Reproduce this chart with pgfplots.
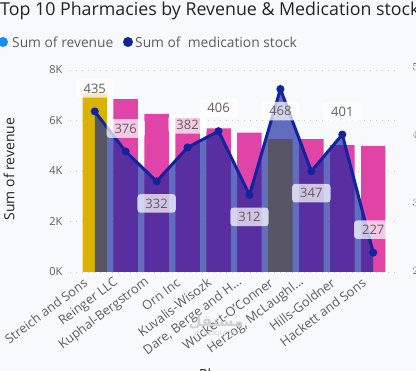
\documentclass[border=0pt]{standalone}
\usepackage{pgfplots}
\pgfplotsset{compat=1.18}
\usepackage{fontspec}
\setmainfont{Open Sans}
\newfontfamily\arabicfont[Script=Arabic]{DejaVu Sans}
\TeXXeTstate=1
\definecolor{bgc}{RGB}{248,249,251}
\definecolor{pinkc}{HTML}{E044A7}
\definecolor{yellowc}{HTML}{D9B300}
\definecolor{navyc}{HTML}{12239E}
\definecolor{legblue}{HTML}{118DFF}
\definecolor{textgray}{HTML}{605E5C}
\definecolor{titlec}{HTML}{252423}
\definecolor{gridc}{RGB}{200,200,200}
\newcommand{\dd}{.{}.{}.}
\begin{document}
\begin{tikzpicture}
\useasboundingbox (0pt,0pt) rectangle (416pt,371pt);
\fill[bgc] (0pt,0pt) rectangle (416pt,371pt);
% title
\node[overlay, anchor=base west, inner sep=0pt, font=\fontsize{17.8}{21}\selectfont, text=titlec] at (0pt,355pt) {Top 10 Pharmacies by Revenue \& Medication stock};
% legend
\fill[overlay, legblue] (3pt,329pt) circle (5pt);
\node[anchor=west, inner sep=0pt, font=\fontsize{13.8}{16}\selectfont, text=textgray] at (12pt,329pt) {Sum of revenue};
\fill[navyc] (128pt,329pt) circle (5pt);
\node[anchor=west, inner sep=0pt, font=\fontsize{13.8}{16}\selectfont, text=textgray] at (135pt,329pt) {Sum of\ \ medication stock};
% y label
\node[rotate=90, inner sep=0pt, font=\fontsize{14}{16}\selectfont, text=titlec] at (9pt,202pt) {Sum of revenue};
% x label (cut off)
\node[overlay, anchor=base west, inner sep=0pt, font=\fontsize{14}{16}\selectfont, text=titlec] at (199pt,-9pt) {Pharmacy};

\begin{axis}[
  at={(70pt,99pt)}, anchor=south west, scale only axis,
  width=328pt, height=205pt,
  xmin=-0.8, xmax=9.8, ymin=0, ymax=8120,
  axis line style={draw=none}, major tick length=0pt,
  ytick={0,2000,4000,6000,8000}, yticklabels={0K,2K,4K,6K,8K},
  yticklabel style={font=\fontsize{11}{13}\selectfont, text=textgray, anchor=east, xshift=-4pt},
  ymajorgrids, grid style={gridc, line width=0.9pt, dash pattern=on 1.2pt off 4.8pt},
  xtick={0,1,2,3,4,5,6,7,8,9},
  xticklabels={Streich and Sons, Reinger LLC, Kuphal-Bergstrom, Orn Inc, Kuvalis-Wisozk, {Dare, Berge and H\dd}, Wuckert-O'Conner, {Herzog, McLaughl\dd}, Hills-Goldner, Hackett and Sons},
  xticklabel style={overlay, font=\fontsize{12.8}{14}\selectfont, text=textgray, inner sep=0pt, xshift=-9pt, yshift=-9pt, rotate=37, anchor=east},
]
\addplot[ybar, bar width=0.79, bar shift=0pt, fill=pinkc, draw=none] coordinates {(1,6850) (2,6260) (3,6100) (4,5690) (5,5520) (7,5260) (8,5030) (9,5000)};
\addplot[ybar, bar width=0.79, bar shift=0pt, fill=yellowc, draw=none] coordinates {(0,7070) (6,5260)};
\end{axis}

\begin{axis}[
  at={(70pt,99pt)}, anchor=south west, scale only axis,
  width=328pt, height=205pt,
  xmin=-0.8, xmax=9.8, ymin=198.5, ymax=500.5,
  axis line style={draw=none}, major tick length=0pt,
  xtick=\empty,
  ytick={200,300,400,500}, yticklabel pos=right,
  yticklabel style={overlay, font=\fontsize{11}{13}\selectfont, text=textgray, anchor=west, xshift=11pt},
]
\addplot[fill=navyc, fill opacity=0.65, draw=none] coordinates {(0,198.5) (0,435) (1,376) (2,332) (3,382) (4,406) (5,312) (6,468) (7,347) (8,401) (9,227) (9,198.5)};
\addplot[navyc, line width=3pt, mark=*, mark size=3.5pt, mark options={fill=navyc, draw=navyc, line width=1pt}] coordinates {(0,435) (1,376) (2,332) (3,382) (4,406) (5,312) (6,468) (7,347) (8,401) (9,227)};
\addplot[draw=none, mark=none, nodes near coords, point meta=explicit symbolic,
  nodes near coords style={anchor=center, yshift=23pt, fill=white, fill opacity=0.72, text opacity=1, rounded corners=3pt, inner xsep=8pt, inner ysep=4.5pt, text=textgray, font=\fontsize{13}{15}\selectfont}]
  coordinates {(0,435) [435] (1,376) [376] (3,382) [382] (4,406) [406] (8,401) [401] (9,227) [227]};
\addplot[draw=none, mark=none, nodes near coords, point meta=explicit symbolic,
  nodes near coords style={anchor=center, yshift=-22pt, fill=white, fill opacity=0.72, text opacity=1, rounded corners=3pt, inner xsep=8pt, inner ysep=4.5pt, text=textgray, font=\fontsize{13}{15}\selectfont}]
  coordinates {(2,332) [332] (5,312) [312] (6,468) [468] (7,347) [347]};
\end{axis}
% watermark
\node[text=black!18, font=\arabicfont\bfseries\fontsize{15}{17}\selectfont, inner sep=0pt] at (216pt,49pt) {\beginR مستقل\endR};
\node[text=black!18, font=\fontsize{7}{8}\selectfont, inner sep=0pt] at (216pt,37pt) {mostaql.com};
\end{tikzpicture}
\end{document}
